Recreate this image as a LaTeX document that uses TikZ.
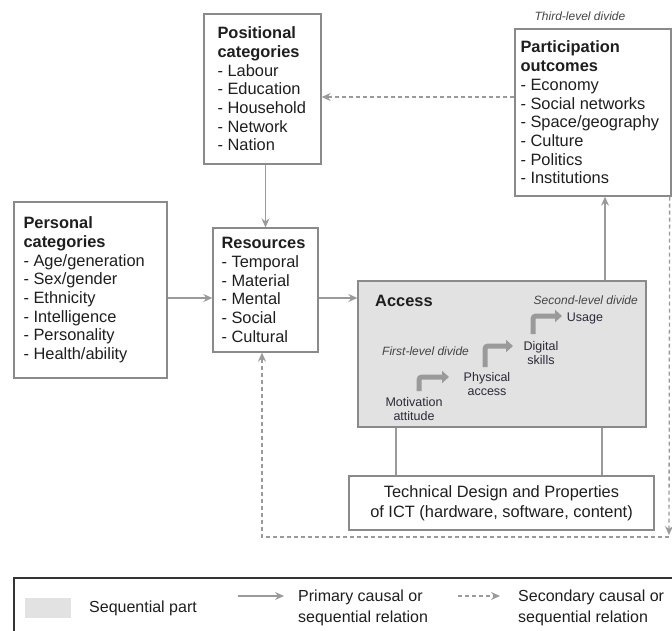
\documentclass[tikz,border=0pt]{standalone}
\usepackage{fontspec}
\setmainfont{Liberation Sans}
\usetikzlibrary{arrows.meta,calc}
\definecolor{linegray}{HTML}{8A8A8A}
\definecolor{arrgray}{HTML}{9A9A9A}
\definecolor{fillgray}{HTML}{E2E2E2}
\definecolor{txtc}{HTML}{1E1E1E}
\definecolor{smallc}{HTML}{2A2A38}
\definecolor{italc}{HTML}{444444}
\begin{document}
\begin{tikzpicture}[x=1pt,y=-1pt,
  box/.style={draw=linegray, line width=1.3pt, inner sep=0pt},
  txtb/.style={font=\fontsize{16.4}{18.7}\selectfont, align=left, inner sep=0pt, text=txtc},
  small/.style={font=\fontsize{12.5}{14.5}\selectfont, align=center, inner sep=0pt, text=smallc},
  ital/.style={font=\itshape\fontsize{12}{14.5}\selectfont, inner sep=0pt, text=italc},
  arr/.style={draw=arrgray, line width=1.3pt, -{Stealth[length=9pt,width=8pt,inset=3pt]}},
  darr/.style={arr, dash pattern=on 4pt off 3pt},
  plainline/.style={draw=arrgray, line width=1.3pt},
  sarr/.style={draw=arrgray, line width=5pt, rounded corners=3pt, -{Triangle[length=7pt,width=12pt]}},
  lt/.style={font=\fontsize{16}{20.5}\selectfont, align=left, inner sep=0pt, text=txtc}
]
\useasboundingbox (0,0) rectangle (672,631);

% boxes
\node[box, minimum width=117pt, minimum height=150pt] (pos) at (262.5,89) {};
\node[txtb, anchor=west] (posT) at ([xshift=14pt]pos.west) {\textbf{Positional}\\\textbf{categories}\\- Labour\\- Education\\- Household\\- Network\\- Nation};

\node[box, minimum width=156pt, minimum height=167pt] (part) at (593,112.5) {};
\node[txtb, anchor=west] (partT) at ([xshift=6pt]part.west) {\textbf{Participation}\\\textbf{outcomes}\\- Economy\\- Social networks\\- Space/geography\\- Culture\\- Politics\\- Institutions};
\node[ital, anchor=south] (third) at ([xshift=-13pt,yshift=8pt]part.north) {Third-level divide};

\node[box, minimum width=153pt, minimum height=176pt] (pers) at (90.5,290) {};
\node[txtb, anchor=west] (persT) at ([xshift=10pt]pers.west) {\textbf{Personal}\\\textbf{categories}\\- Age/generation\\- Sex/gender\\- Ethnicity\\- Intelligence\\- Personality\\- Health/ability};

\node[box, minimum width=105pt, minimum height=124pt] (res) at (265.5,290) {};
\node[txtb, anchor=west] (resT) at ([xshift=9pt]res.west) {\textbf{Resources}\\- Temporal\\- Material\\- Mental\\- Social\\- Cultural};

\node[box, fill=fillgray, minimum width=288pt, minimum height=146pt] (acc) at (502,354) {};
\node[font=\bfseries\fontsize{16.4}{18}\selectfont, text=txtc, anchor=base west, inner sep=0pt] (accT) at (375,306) {Access};
\node[ital, anchor=base east] (sld) at (638,304) {Second-level divide};
\node[ital, anchor=base west] (fld) at (382,355) {First-level divide};
\node[small] (usage) at (585,318) {Usage};
\node[small] (dig) at (541,353) {Digital\\skills};
\node[small] (phys) at (487,384) {Physical\\access};
\node[small] (mot) at (414,409) {Motivation\\attitude};

\node[box, minimum width=305pt, minimum height=54pt, align=center, font=\fontsize{16.4}{20}\selectfont, text=txtc] (tech) at (501.5,503) {Technical Design and Properties\\of ICT (hardware, software, content)};

% step arrows
\draw[sarr] (419,391) |- (449,377);
\draw[sarr] (485,367) |- (513,346);
\draw[sarr] (533,334) |- (562,316);

% connectors
\draw[arr] (res.north |- pos.south) -- (res.north);
\draw[arr] ([yshift=-8pt]pers.east) -- ([yshift=-8pt]res.west);
\draw[arr] ([yshift=-8pt]res.east) -- ([yshift=-8pt]res.east -| acc.west);
\draw[arr] ([xshift=103pt]acc.north) -- ([xshift=103pt]acc.north |- part.south);
\draw[darr] ([yshift=15.5pt]part.west) -- ([yshift=15.5pt]part.west -| pos.east);
\draw[plainline] ([xshift=-106pt]acc.south) -- ([xshift=-106pt]acc.south |- tech.north);
\draw[plainline] ([xshift=100pt]acc.south) -- ([xshift=100pt]acc.south |- tech.north);
\coordinate (c1) at (669,537);
\draw[darr] ([xshift=-2pt]part.south east) -- ([yshift=2pt]c1);
\draw[darr] (c1) -- ([xshift=-3.5pt]res.south |- c1) -- ([xshift=-3.5pt]res.south);

% legend
\node[draw=black!80, line width=1.5pt, minimum width=700pt, minimum height=80pt, anchor=north west] (leg) at (13,577) {};
\node[fill=fillgray, minimum width=46pt, minimum height=20pt, inner sep=0pt] (legsq) at (48,608) {};
\node[lt, anchor=west] (legseq) at (89,608) {Sequential part};
\coordinate (la1) at (238,596);
\coordinate (la2) at (284,596);
\draw[arr] (la1) -- (la2);
\node[lt, anchor=west] (legprim) at (298,608) {Primary causal or\\sequential relation};
\coordinate (lb1) at (458,596);
\coordinate (lb2) at (500,596);
\draw[darr] (lb1) -- (lb2);
\node[lt, anchor=west] (legsec) at (518,608) {Secondary causal or\\sequential relation};
\end{tikzpicture}
\end{document}
